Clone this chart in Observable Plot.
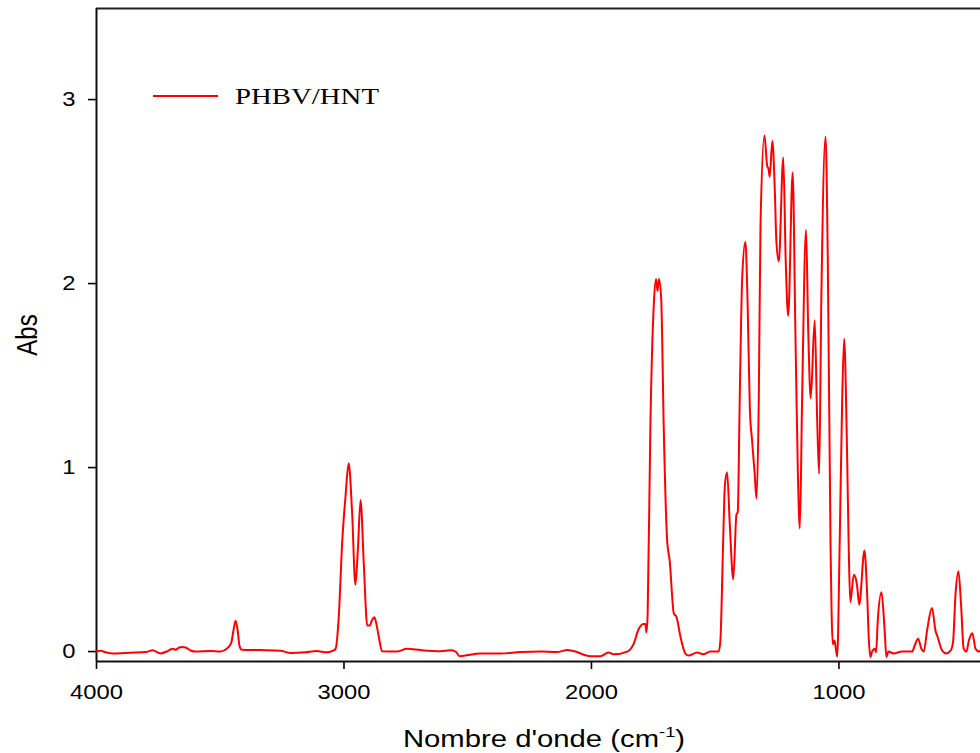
<!DOCTYPE html>
<html>
<head>
<meta charset="utf-8">
<script src="https://cdn.jsdelivr.net/npm/d3@7"></script>
<script src="https://cdn.jsdelivr.net/npm/@observablehq/plot@0.6"></script>
<style>
  html, body { margin: 0; padding: 0; background: white; overflow: hidden; }
</style>
</head>
<body>
<div id="chart"></div>
<script>
const seriesName = "PHBV/HNT";
const xLabel = "Nombre d'onde (cm";
const xLabelSup = "-1";
const yLabel = "Abs";
const xTicks = [4000, 3000, 2000, 1000];
const yTicks = [0, 1, 2, 3];

const wavenumber = [4000, 3984, 3960, 3931, 3863, 3798, 3774, 3741, 3710, 3693, 3680, 3669, 3655, 3640, 3620, 3600, 3540, 3499, 3470, 3455, 3446, 3438, 3430, 3422, 3414, 3337, 3257, 3216, 3156, 3111, 3070, 3046, 3034, 3021, 3007, 2994, 2981, 2967, 2954, 2944, 2933, 2920, 2906, 2896, 2887, 2877, 2869, 2859, 2846, 2785, 2745, 2691, 2610, 2570, 2549, 2533, 2448, 2368, 2287, 2206, 2141, 2097, 2073, 2004, 1964, 1931, 1911, 1855, 1830, 1810, 1790, 1782, 1778, 1773, 1762, 1748, 1739, 1733, 1727, 1718, 1708, 1694, 1684, 1667, 1657, 1640, 1620, 1608, 1573, 1549, 1519, 1486, 1479, 1468, 1461, 1452, 1441, 1427, 1414, 1409, 1401, 1391, 1378, 1369, 1360, 1351, 1341, 1333, 1324, 1317, 1301, 1290, 1284, 1280, 1269, 1259, 1253, 1243, 1225, 1215, 1205, 1187, 1176, 1166, 1158, 1149, 1133, 1124, 1114, 1098, 1088, 1080, 1071, 1054, 1045, 1034, 1025, 1018, 1013, 1007, 997, 987, 979, 967, 960, 954, 940, 930, 926, 918, 897, 886, 879, 873, 866, 855, 850, 843, 828, 816, 808, 801, 779, 745, 704, 694, 680, 667, 657, 644, 624, 610, 601, 583, 566, 549, 539, 529, 517, 506, 496, 485, 475, 461, 448, 435, 428];

const absorbance = [0.00, 0.004, -0.005, -0.01, -0.006, -0.002, 0.007, -0.01, 0.004, 0.015, 0.01, 0.02, 0.025, 0.022, 0.006, 0.0, 0.003, 0.001, 0.02, 0.05, 0.12, 0.168, 0.12, 0.03, 0.01, 0.008, 0.005, -0.008, -0.004, 0.003, -0.004, 0.004, 0.015, 0.19, 0.60, 0.84, 1.023, 0.75, 0.364, 0.55, 0.824, 0.478, 0.141, 0.141, 0.17, 0.186, 0.15, 0.078, 0.002, 0.0, 0.015, 0.008, 0.002, 0.007, 0.0, -0.025, -0.01, -0.01, -0.003, 0.0, -0.003, 0.008, 0.003, -0.025, -0.025, -0.005, -0.015, 0.0, 0.04, 0.12, 0.15, 0.15, 0.105, 0.2, 1.22, 1.89, 2.025, 1.96, 2.025, 1.91, 1.22, 0.60, 0.495, 0.205, 0.19, 0.078, -0.013, -0.022, -0.005, -0.015, 0.0, 0.0, 0.06, 0.59, 0.90, 0.975, 0.69, 0.393, 0.746, 0.756, 1.36, 2.03, 2.227, 1.89, 1.32, 1.147, 0.975, 0.832, 1.36, 2.31, 2.805, 2.64, 2.62, 2.58, 2.775, 2.50, 2.236, 2.12, 2.685, 2.12, 1.825, 2.603, 1.74, 0.975, 0.67, 1.36, 2.293, 1.74, 1.377, 1.80, 1.262, 0.966, 1.93, 2.80, 2.12, 0.59, 0.04, 0.06, 0.02, -0.027, 0.59, 1.36, 1.70, 1.07, 0.53, 0.268, 0.418, 0.386, 0.35, 0.255, 0.549, 0.31, 0.06, -0.03, 0.0, 0.015, -0.005, 0.17, 0.322, 0.13, -0.03, 0.0, -0.01, 0.0, 0.0, 0.033, 0.069, 0.015, 0.0, 0.114, 0.237, 0.114, 0.078, 0.005, -0.01, 0.005, 0.05, 0.31, 0.436, 0.24, 0.015, 0.0, 0.06, 0.10, 0.015, 0.0, 0.005];

const data = wavenumber.map((w, i) => ({wn: w, abs: absorbance[i]}));

const xDomain = [4000, 428];
const yDomain = [-0.054, 3.495];

const svg = Plot.plot({
  width: 980,
  height: 753,
  marginLeft: 96,
  marginRight: 0,
  marginTop: 8,
  marginBottom: 92,
  style: {fontFamily: "'Liberation Sans', Arial, sans-serif", fontSize: "19.5px", color: "black", background: "white", overflow: "visible"},
  x: {domain: xDomain, ticks: xTicks, tickFormat: d => String(d), tickSize: 8, tickPadding: 16, label: null},
  y: {domain: yDomain, ticks: yTicks, tickFormat: d => String(d), tickSize: 8, tickPadding: 13, label: null},
  marks: [
    Plot.ruleY([yDomain[1]], {stroke: "#222", strokeWidth: 2}),
    Plot.ruleY([yDomain[0]], {stroke: "#111", strokeWidth: 2}),
    Plot.ruleX([xDomain[0]], {stroke: "#111", strokeWidth: 2}),
    Plot.line(data, {x: "wn", y: "abs", stroke: "#ff0000", strokeWidth: 2, curve: "monotone-x"})
  ]
});

// stretch axis tick labels horizontally like the reference
svg.querySelectorAll('[aria-label*="axis"] text').forEach(t => {
  const xa = t.getAttribute("x");
  let tr = t.getAttribute("transform") || "";
  if (xa !== null && !isNaN(+xa)) {
    tr += ` translate(${+xa},0)`;
    t.removeAttribute("x");
  }
  t.setAttribute("transform", (tr + " scale(1.22,1)").trim());
});
svg.querySelectorAll('[aria-label*="axis"] path, [aria-label*="axis"] line').forEach(p => {
  p.setAttribute("stroke-width", "1.6");
});

const s = d3.select(svg);
// x-axis title with superscript
const xt = s.append("text")
  .attr("transform", "translate(544,747) scale(1.22,1)")
  .attr("text-anchor", "middle")
  .attr("font-family", "'Liberation Sans', Arial, sans-serif")
  .attr("font-size", 24)
  .attr("fill", "black");
xt.append("tspan").text(xLabel);
xt.append("tspan").attr("font-size", 15).attr("dy", -10).text(xLabelSup);
xt.append("tspan").attr("dy", 10).text(")");

// y-axis title
s.append("text")
  .attr("transform", "translate(37,335) rotate(-90) scale(1,1.22)")
  .attr("text-anchor", "middle")
  .attr("font-family", "'Liberation Sans', Arial, sans-serif")
  .attr("font-size", 24)
  .attr("fill", "black")
  .text(yLabel);

// legend
s.append("line")
  .attr("x1", 153).attr("x2", 218).attr("y1", 96).attr("y2", 96)
  .attr("stroke", "#ff0000").attr("stroke-width", 1.8);
s.append("text")
  .attr("transform", "translate(235,104) scale(1.2,1)")
  .attr("text-anchor", "start")
  .attr("font-family", "'Liberation Serif', 'Times New Roman', serif")
  .attr("font-size", 24)
  .attr("fill", "black")
  .text(seriesName);

document.getElementById("chart").appendChild(svg);
</script>
</body>
</html>
